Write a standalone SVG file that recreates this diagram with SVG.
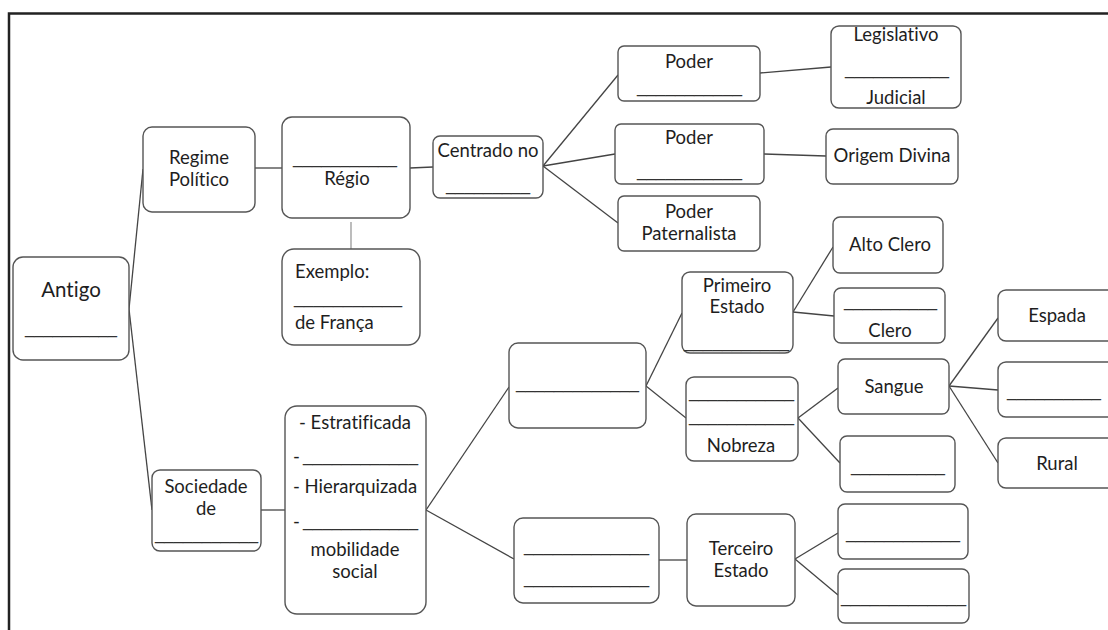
<svg xmlns="http://www.w3.org/2000/svg" width="1108" height="630" viewBox="0 0 1108 630">
<style>
rect{fill:#fff;stroke:#555;stroke-width:1.4}
text{font-family:Lato,"Open Sans","Liberation Sans",sans-serif;font-size:18.5px;fill:#1e1e1e;font-variant-ligatures:none}
.c{text-anchor:middle}
.b{fill:#333;font-family:"Liberation Sans",Arial,sans-serif}
.big{font-size:20.5px}
#connectors line{stroke:#444;stroke-width:1.3}
#connectors line.lt{stroke:#999}
</style>
<rect width="1108" height="630" style="fill:#fff;stroke:none"/>
<path d="M9 630 V13.5 H1108" fill="none" stroke="#222" stroke-width="2.5"/>
<g id="connectors">
<line x1="129" y1="309" x2="143" y2="169"/>
<line x1="129" y1="309" x2="152" y2="510"/>
<line x1="255" y1="168" x2="282" y2="168"/>
<line x1="410" y1="168" x2="433" y2="167"/>
<line class="lt" x1="351" y1="222" x2="351" y2="249"/>
<line x1="543" y1="166" x2="618" y2="75"/>
<line x1="543" y1="166" x2="615" y2="154"/>
<line x1="543" y1="166" x2="618" y2="223"/>
<line x1="760" y1="73" x2="831" y2="67"/>
<line x1="764" y1="154" x2="826" y2="156"/>
<line x1="261" y1="510" x2="285" y2="510"/>
<line x1="426" y1="510" x2="509" y2="387"/>
<line x1="426" y1="510" x2="514" y2="559"/>
<line x1="646" y1="386" x2="682" y2="313"/>
<line x1="646" y1="386" x2="686" y2="418"/>
<line x1="793" y1="312" x2="833" y2="247"/>
<line x1="793" y1="312" x2="834" y2="316"/>
<line x1="798" y1="418" x2="838" y2="388"/>
<line x1="798" y1="418" x2="840" y2="463"/>
<line x1="949" y1="386" x2="998" y2="318"/>
<line x1="949" y1="386" x2="998" y2="390"/>
<line x1="949" y1="386" x2="998" y2="463"/>
<line x1="659" y1="560" x2="687" y2="560"/>
<line x1="795" y1="559" x2="838" y2="533"/>
<line x1="795" y1="559" x2="838" y2="595"/>
</g>
<g id="antigo"><rect x="13" y="257" width="116" height="103" rx="10"/><text class="c big" x="71" y="297">Antigo</text><text class="b" x="25" y="333" textLength="92" lengthAdjust="spacingAndGlyphs">__________</text></g>
<g id="regime"><rect x="143" y="127" width="112" height="85" rx="9"/><text class="c" x="199" y="164">Regime</text><text class="c" x="199" y="186">Político</text></g>
<g id="regio"><rect x="282" y="117" width="128" height="101" rx="10"/><text class="b" x="293" y="163" textLength="104" lengthAdjust="spacingAndGlyphs">___________</text><text class="c" x="347" y="185">Régio</text></g>
<g id="exemplo"><rect x="282" y="249" width="138" height="96" rx="12"/><text x="295" y="278">Exemplo:</text><text class="b" x="294" y="303" textLength="108" lengthAdjust="spacingAndGlyphs">___________</text><text x="295" y="329">de França</text></g>
<g id="centrado"><rect x="433" y="136" width="110" height="62" rx="7"/><text class="c" x="488" y="157">Centrado no</text><text class="b" x="446" y="190" textLength="84" lengthAdjust="spacingAndGlyphs">_________</text></g>
<g id="poder1"><rect x="618" y="46" width="142" height="55" rx="6"/><text class="c" x="689" y="68">Poder</text><text class="b" x="637" y="92" textLength="105" lengthAdjust="spacingAndGlyphs">___________</text></g>
<g id="poder2"><rect x="615" y="124" width="149" height="60" rx="6"/><text class="c" x="689" y="144">Poder</text><text class="b" x="637" y="176" textLength="105" lengthAdjust="spacingAndGlyphs">___________</text></g>
<g id="paternalista"><rect x="618" y="196" width="142" height="55" rx="6"/><text class="c" x="689" y="218">Poder</text><text class="c" x="689" y="240">Paternalista</text></g>
<g id="legislativo"><rect x="831" y="26" width="130" height="82" rx="8"/><text class="c" x="896" y="41">Legislativo</text><text class="b" x="845" y="74" textLength="104" lengthAdjust="spacingAndGlyphs">___________</text><text class="c" x="896" y="104">Judicial</text></g>
<g id="origem"><rect x="826" y="129" width="132" height="55" rx="7"/><text class="c" x="892" y="162">Origem Divina</text></g>
<g id="primeiro"><rect x="682" y="272" width="111" height="81" rx="8"/><text class="c" x="737" y="292">Primeiro</text><text class="c" x="737" y="313">Estado</text><text class="b" x="684" y="347" textLength="105" lengthAdjust="spacingAndGlyphs">___________</text></g>
<g id="altoclero"><rect x="833" y="217" width="110" height="56" rx="7"/><text class="c" x="890" y="251">Alto Clero</text></g>
<g id="clero"><rect x="834" y="288" width="111" height="55" rx="7"/><text class="b" x="844" y="306" textLength="93" lengthAdjust="spacingAndGlyphs">__________</text><text class="c" x="890" y="337">Clero</text></g>
<g id="privilegiados"><rect x="509" y="343" width="137" height="85" rx="9"/><text class="b" x="516" y="388" textLength="123" lengthAdjust="spacingAndGlyphs">_____________</text></g>
<g id="nobreza"><rect x="686" y="377" width="112" height="84" rx="8"/><text class="b" x="689" y="397" textLength="105" lengthAdjust="spacingAndGlyphs">___________</text><text class="b" x="689" y="421" textLength="105" lengthAdjust="spacingAndGlyphs">___________</text><text class="c" x="741" y="452">Nobreza</text></g>
<g id="sangue"><rect x="838" y="359" width="111" height="55" rx="7"/><text class="c" x="894" y="393">Sangue</text></g>
<g id="nobreza-blank"><rect x="840" y="436" width="115" height="56" rx="7"/><text class="b" x="851" y="471" textLength="94" lengthAdjust="spacingAndGlyphs">__________</text></g>
<g id="espada"><rect x="998" y="290" width="118" height="51" rx="8"/><text class="c" x="1057" y="322">Espada</text></g>
<g id="sangue-blank"><rect x="998" y="362" width="118" height="55" rx="8"/><text class="b" x="1007" y="396" textLength="94" lengthAdjust="spacingAndGlyphs">__________</text></g>
<g id="rural"><rect x="998" y="438" width="118" height="50" rx="8"/><text class="c" x="1057" y="470">Rural</text></g>
<g id="sociedade"><rect x="152" y="470" width="109" height="81" rx="8"/><text class="c" x="206" y="493">Sociedade</text><text class="c" x="206" y="515">de</text><text class="b" x="155" y="539" textLength="103" lengthAdjust="spacingAndGlyphs">___________</text></g>
<g id="caracteristicas"><rect x="285" y="406" width="141" height="208" rx="12"/><text class="c" x="355" y="429">- Estratificada</text><text x="293" y="463">-</text><text class="b" x="303" y="461" textLength="115" lengthAdjust="spacingAndGlyphs">____________</text><text class="c" x="355" y="493">- Hierarquizada</text><text x="293" y="528">-</text><text class="b" x="303" y="526" textLength="115" lengthAdjust="spacingAndGlyphs">____________</text><text class="c" x="355" y="556">mobilidade</text><text class="c" x="355" y="578">social</text></g>
<g id="nao-privilegiados"><rect x="514" y="518" width="145" height="85" rx="9"/><text class="b" x="524" y="551" textLength="125" lengthAdjust="spacingAndGlyphs">_____________</text><text class="b" x="524" y="583" textLength="125" lengthAdjust="spacingAndGlyphs">_____________</text></g>
<g id="terceiro"><rect x="687" y="514" width="108" height="92" rx="9"/><text class="c" x="741" y="555">Terceiro</text><text class="c" x="741" y="577">Estado</text></g>
<g id="terceiro-blank1"><rect x="838" y="504" width="130" height="55" rx="7"/><text class="b" x="846" y="538" textLength="114" lengthAdjust="spacingAndGlyphs">____________</text></g>
<g id="terceiro-blank2"><rect x="838" y="569" width="131" height="54" rx="7"/><text class="b" x="841" y="602" textLength="125" lengthAdjust="spacingAndGlyphs">_____________</text></g>
</svg>
